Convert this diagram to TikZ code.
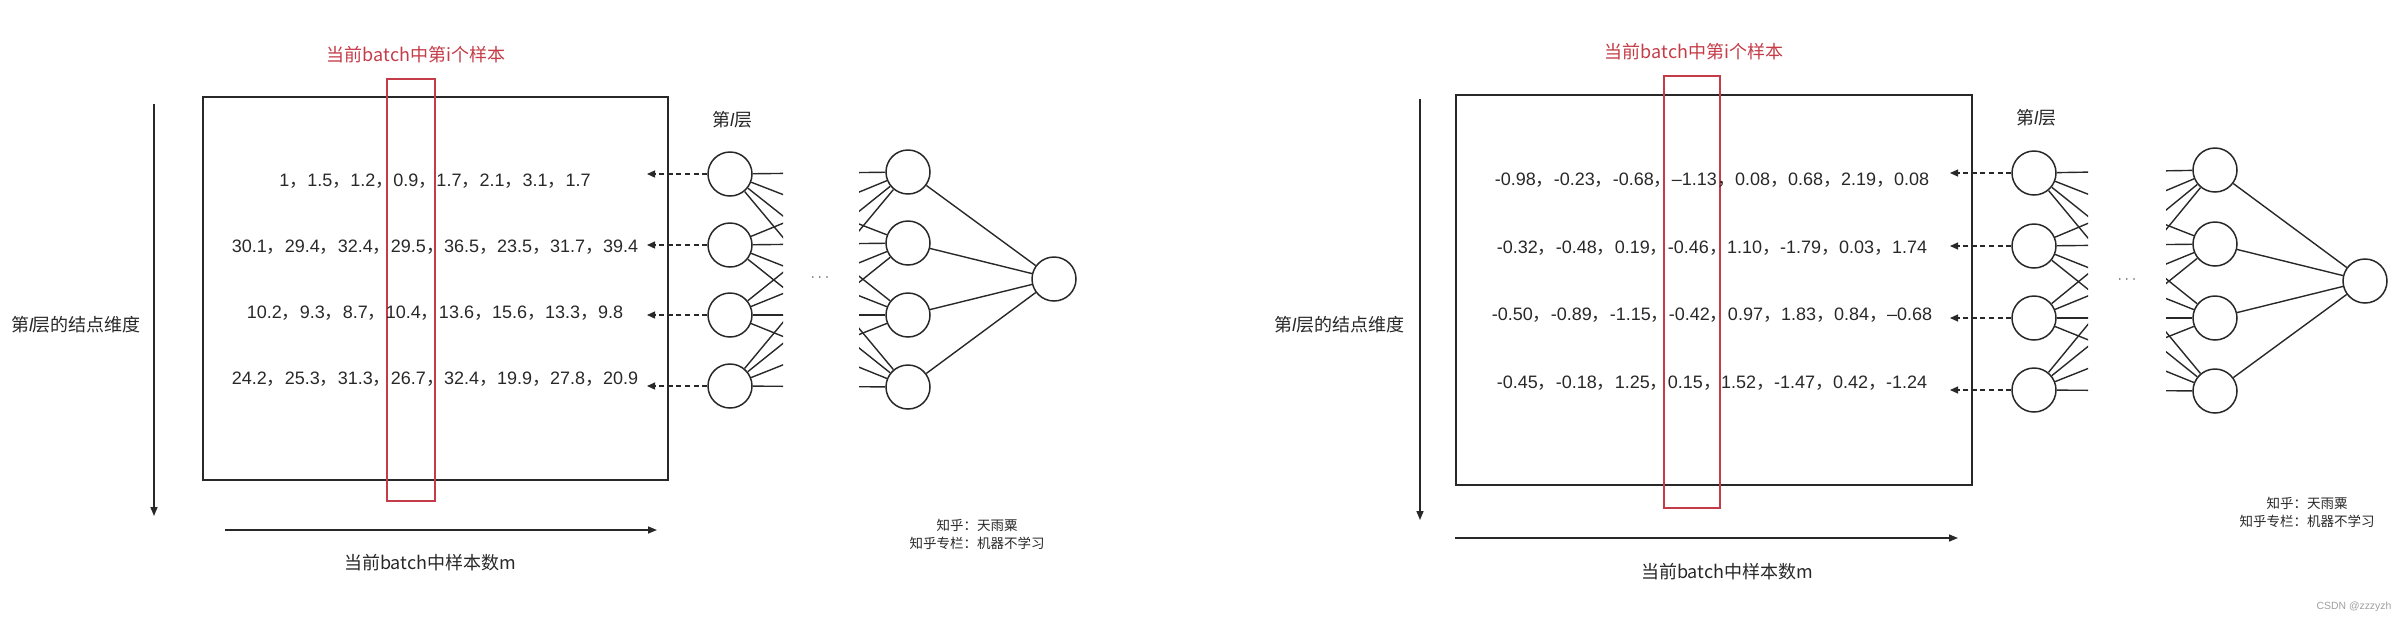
\documentclass[tikz,border=0pt]{standalone}
\usepackage{fontspec}
\setmainfont{Liberation Sans}
\newfontfamily\cjk{Noto Sans CJK SC}
\usetikzlibrary{arrows.meta,positioning}
\definecolor{zhred}{RGB}{196,60,72}
\definecolor{ink}{RGB}{40,40,40}
\newcommand\cma{{\cjk ，}}
\newcommand\lyr{{\normalfont\itshape l}}

\begin{document}
\begin{tikzpicture}[
			x=0.5pt, y=-0.5pt,
			font=\fontsize{9}{11}\selectfont, color=ink,
			matbox/.style={draw=ink, line width=1.2pt},
			sample/.style={draw=zhred, line width=0.8pt},
			redtitle/.style={font=\cjk\fontsize{9}{11}\selectfont, text=zhred},
			lbl/.style={font=\cjk\fontsize{9}{11}\selectfont},
			numrow/.style={inner sep=0pt},
			neuron/.style={circle, draw=ink, line width=0.75pt, minimum size=22pt, inner sep=0pt},
			wire/.style={line width=0.7pt},
			axis/.style={line width=0.75pt, -{Triangle[length=4.5pt, width=3.5pt]}},
			fetch/.style={line width=0.6pt, dash pattern=on 2.5pt off 1.8pt, -{Triangle[length=4pt, width=3.5pt]}},
			note/.style={font=\cjk\fontsize{6.75}{9}\selectfont, align=center},
			dotsym/.style={font=\fontsize{6}{7}\selectfont, inner sep=0pt}
		]
		\useasboundingbox (0,0) rectangle (2406,623);

		% left panel: raw values
		\draw[matbox] (203,97) rectangle (668,480);
		\draw[sample] (387,79) rectangle (435,501);
		\node[redtitle] (tL) at (416,55) {当前batch中第i个样本};
		\node[lbl] (dimL) at (76,325) {第\lyr 层的结点维度};
		\node[lbl] (mL) at (430,563) {当前batch中样本数m};

		\coordinate (vaL) at (154,104);
		\coordinate (vbL) at (154,516);
		\coordinate (haL) at (225,530);
		\coordinate (hbL) at (657,530);
		\draw[axis] (vaL) -- (vbL);
		\draw[axis] (haL) -- (hbL);

		\node[numrow] (rL1) at (435,181) {1\cma 1.5\cma 1.2\cma 0.9\cma 1.7\cma 2.1\cma 3.1\cma 1.7};
		\node[numrow] (rL2) at (435,247) {30.1\cma 29.4\cma 32.4\cma 29.5\cma 36.5\cma 23.5\cma 31.7\cma 39.4};
		\node[numrow] (rL3) at (435,313) {10.2\cma 9.3\cma 8.7\cma 10.4\cma 13.6\cma 15.6\cma 13.3\cma 9.8};
		\node[numrow] (rL4) at (435,379) {24.2\cma 25.3\cma 31.3\cma 26.7\cma 32.4\cma 19.9\cma 27.8\cma 20.9};

		\node[lbl] (layL) at (732,120) {第\lyr 层};
		\foreach \y [count=\i] in {174,245,315,386}
			\node[neuron] (aL\i) at (730,\y) {};
		\foreach \y [count=\i] in {172,243,315,387}
			\node[neuron] (bL\i) at (908,\y) {};
		\node[neuron] (oL) at (1054,279) {};
		\node[dotsym] (dotL) at (820,278) {$\cdots$};

		\begin{scope}
			\clip (690,0) rectangle (783,623) (859,0) rectangle (1100,623);
			\foreach \i in {1,...,4}
				\foreach \j in {1,...,4}
					\draw[wire] (aL\i) -- (bL\j);
		\end{scope}
		\foreach \j in {1,...,4}
			\draw[wire] (bL\j) -- (oL);

		\coordinate (tipL) at (647,0);
		\foreach \i in {1,...,4}
			\draw[fetch] (aL\i.west) -- (aL\i.west -| tipL);

		\node[note] (nL) at (977,534) {知乎：天雨粟\\知乎专栏：机器不学习};

		% right panel: normalized values
		\draw[matbox] (1456,95) rectangle (1972,485);
		\draw[sample] (1664,76) rectangle (1720,508);
		\node[redtitle] (tR) at (1694,52) {当前batch中第i个样本};
		\node[lbl] (dimR) at (1339,325) {第\lyr 层的结点维度};
		\node[lbl] (mR) at (1727,572) {当前batch中样本数m};

		\coordinate (vaR) at (1420,99);
		\coordinate (vbR) at (1420,520);
		\coordinate (haR) at (1455,538);
		\coordinate (hbR) at (1958,538);
		\draw[axis] (vaR) -- (vbR);
		\draw[axis] (haR) -- (hbR);

		\node[numrow] (rR1) at (1712,180) {-0.98\cma -0.23\cma -0.68\cma –1.13\cma 0.08\cma 0.68\cma 2.19\cma 0.08};
		\node[numrow] (rR2) at (1712,248) {-0.32\cma -0.48\cma 0.19\cma -0.46\cma 1.10\cma -1.79\cma 0.03\cma 1.74};
		\node[numrow] (rR3) at (1712,315) {-0.50\cma -0.89\cma -1.15\cma -0.42\cma 0.97\cma 1.83\cma 0.84\cma –0.68};
		\node[numrow] (rR4) at (1712,383) {-0.45\cma -0.18\cma 1.25\cma 0.15\cma 1.52\cma -1.47\cma 0.42\cma -1.24};

		\node[lbl] (layR) at (2036,118) {第\lyr 层};
		\foreach \y [count=\i] in {173,246,318,390}
			\node[neuron] (aR\i) at (2034,\y) {};
		\foreach \y [count=\i] in {170,244,318,391}
			\node[neuron] (bR\i) at (2215,\y) {};
		\node[neuron] (oR) at (2365,281) {};
		\node[dotsym] (dotR) at (2127,280) {$\cdots$};

		\begin{scope}
			\clip (1990,0) rectangle (2088,623) (2166,0) rectangle (2406,623);
			\foreach \i in {1,...,4}
				\foreach \j in {1,...,4}
					\draw[wire] (aR\i) -- (bR\j);
		\end{scope}
		\foreach \j in {1,...,4}
			\draw[wire] (bR\j) -- (oR);

		\coordinate (tipR) at (1950,0);
		\foreach \i in {1,...,4}
			\draw[fetch] (aR\i.west) -- (aR\i.west -| tipR);

		\node[note] (nR) at (2307,512) {知乎：天雨粟\\知乎专栏：机器不学习};
		\node[font=\fontsize{5.2}{6}\selectfont, text=gray!75] (csdn) at (2354,607) {CSDN @zzzyzh};
	\end{tikzpicture}
\end{document}
